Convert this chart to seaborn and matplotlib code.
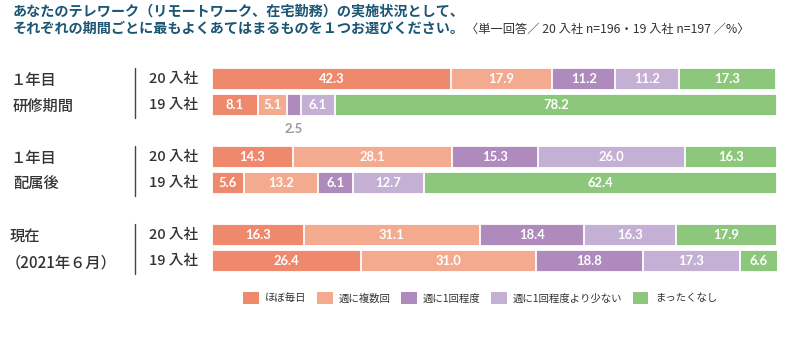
import numpy as np
import pandas as pd
import matplotlib
matplotlib.use("Agg")
import matplotlib.pyplot as plt
import matplotlib.transforms as mtransforms
from matplotlib.patches import Patch
import seaborn as sns

# ---------------- data ----------------
categories = ["ほぼ毎日", "週に複数回", "週に1回程度", "週に1回程度より少ない", "まったくなし"]
colors = ["#EF896E", "#F3AA8F", "#AE8ABD", "#C5B0D5", "#8DC77B"]

group_labels = ["１年目\n研修期間", "１年目\n配属後", "現在\n（2021年６月）"]
row_labels = ["20 入社", "19 入社"]

kenshu_20 = [42.3, 17.9, 11.2, 11.2, 17.3]
kenshu_19 = [8.1, 5.1, 2.5, 6.1, 78.2]
haizoku_20 = [14.3, 28.1, 15.3, 26.0, 16.3]
haizoku_19 = [5.6, 13.2, 6.1, 12.7, 62.4]
genzai_20 = [16.3, 31.1, 18.4, 16.3, 17.9]
genzai_19 = [26.4, 31.0, 18.8, 17.3, 6.6]

rows = ["g1_20", "g1_19", "g2_20", "g2_19", "g3_20", "g3_19"]
row_values = [kenshu_20, kenshu_19, haizoku_20, haizoku_19, genzai_20, genzai_19]
order = ["g1_20", "g1_19", "sp1", "g2_20", "g2_19", "sp2", "g3_20", "g3_19"]

# values shown outside the bar (too small)
outside_threshold = 3.0

# ---------------- build long table ----------------
recs = []
for r, vals in zip(rows, row_values):
    cum = np.cumsum(vals)
    for i, (c, v) in enumerate(zip(categories, vals)):
        recs.append(dict(row=r, cat=c, value=v, cum=cum[i], start=cum[i] - v))
df = pd.DataFrame(recs)

# ---------------- figure ----------------
sns.set_theme(style="white")
plt.rcParams["font.family"] = ["Noto Sans CJK JP", "DejaVu Sans"]

W, H = 790, 339
fig = plt.figure(figsize=(W / 100, H / 100), dpi=100)
fig.patch.set_facecolor("white")

ax_left, ax_right = 212, 777
ax_top, ax_bottom = 65.7, 273.7
ax = fig.add_axes([ax_left / W, 1 - ax_bottom / H, (ax_right - ax_left) / W, (ax_bottom - ax_top) / H])

for c, col in reversed(list(zip(categories, colors))):
    sub = df[df["cat"] == c]
    sns.barplot(data=sub, x="cum", y="row", order=order, orient="h", color=col,
                width=0.85, edgecolor="white", linewidth=1.3, ax=ax, saturation=1)

ax.set_xlim(0, 100)
ax.set_ylim(len(order) - 0.5, -0.5)
ax.set_xlabel("")
ax.set_ylabel("")
ax.set_xticks([])
ax.set_yticks([])
for s in ax.spines.values():
    s.set_visible(False)
ax.patch.set_alpha(0)

# value labels
ypos = {r: order.index(r) for r in rows}
for _, rec in df.iterrows():
    y = ypos[rec["row"]]
    xc = rec["start"] + rec["value"] / 2
    if rec["value"] >= outside_threshold:
        ax.text(xc, y + 0.02, f"{rec['value']:.1f}", ha="center", va="center", color="white",
                fontsize=9.4, fontweight="bold", family=["Lato", "DejaVu Sans"])
    else:
        ax.text(xc, y + 0.93, f"{rec['value']:.1f}", ha="center", va="center", color="#9A9A9A",
                fontsize=9.4, fontweight="bold", family=["Lato", "DejaVu Sans"])

# row labels and group labels
trans = mtransforms.blended_transform_factory(fig.transFigure, ax.transData)
for gi, glabel in enumerate(group_labels):
    r20 = order.index(rows[gi * 2])
    r19 = order.index(rows[gi * 2 + 1])
    for rl, yy in zip(row_labels, [r20, r19]):
        ax.text(198 / W, yy, rl, transform=trans, ha="right", va="center",
                fontsize=10.5, color="#333333", fontweight="medium")
    l1, l2 = glabel.split("\n")
    x1 = 10 / W
    x2 = (6 if l2.startswith("（") else 13) / W
    ax.text(x1, r20 + 0.08, l1, transform=trans, ha="left", va="center",
            fontsize=11, color="#333333", fontweight="medium")
    ax.text(x2, r19 + 0.08, l2, transform=trans, ha="left", va="center",
            fontsize=11, color="#333333", fontweight="medium")
    ax.plot([135 / W, 135 / W], [r20 - 0.42, r19 + 0.5], transform=trans, color="#444444",
            lw=1.0, clip_on=False)

# title
title_color = "#1B5675"
fig.text(13 / W, 1 - 11 / H, "あなたのテレワーク（リモートワーク、在宅勤務）の実施状況として、",
         ha="left", va="center", fontsize=10.2, fontweight="bold", color=title_color)
fig.text(13 / W, 1 - 29 / H, "それぞれの期間ごとに最もよくあてはまるものを１つお選びください。",
         ha="left", va="center", fontsize=10.2, fontweight="bold", color=title_color)
fig.text(750 / W, 1 - 29 / H, "〈単一回答／ 20 入社 n=196・19 入社 n=197 ／%〉",
         ha="right", va="center", fontsize=8.8, color="#333333")

# legend
handles = [Patch(facecolor=col, edgecolor="none") for col in colors]
fig.legend(handles, categories, loc="center", bbox_to_anchor=(480 / W, 1 - 298 / H), ncol=5,
           frameon=False, fontsize=7.5, handlelength=1.5, handleheight=1.5,
           handletextpad=0.6, columnspacing=1.0, labelcolor="#333333")

fig.savefig("out.png", dpi=100, facecolor="white")
